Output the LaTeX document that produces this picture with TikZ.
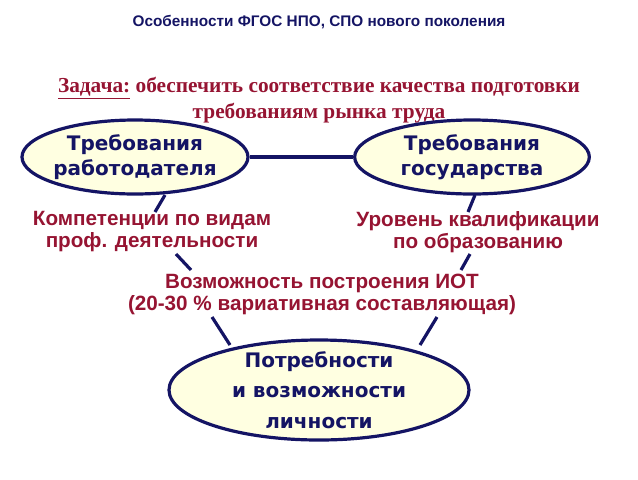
\documentclass[tikz,border=0pt]{standalone}
\usepackage{fontspec}
\setmainfont{Liberation Serif}
\setsansfont{Liberation Sans}
\newfontfamily\verd{DejaVu Sans}
\usetikzlibrary{shapes.geometric}
\definecolor{navy}{RGB}{20,20,100}
\definecolor{dred}{RGB}{150,20,50}
\definecolor{cream}{RGB}{255,255,225}
\tikzset{
  ell/.style={ellipse,draw=navy,line width=2.4pt,fill=cream,inner sep=0pt},
  etext/.style={font=\verd\bfseries\fontsize{15}{19}\selectfont,text=navy,align=center},
  lab/.style={font=\sffamily\bfseries\fontsize{15.5}{16.5}\selectfont,text=dred,align=center},
  conn/.style={draw=navy,line width=2.4pt}
}
\begin{document}
\begin{tikzpicture}[x=0.75pt,y=-0.75pt]
\useasboundingbox (0,0) rectangle (638,479);
\node[font=\sffamily\bfseries\fontsize{11.5}{13}\selectfont,text=navy] (title) at (319,22) {Особенности ФГОС НПО, СПО нового поколения};
\node[font=\bfseries\fontsize{16}{19}\selectfont,text=dred,align=center] (task) at (319,100) {\underline{Задача:} обеспечить соответствие качества подготовки\\требованиям рынка труда};
\coordinate (lt1) at (165,195); \coordinate (lb1) at (155,212);
\coordinate (rt1) at (475,195); \coordinate (rb1) at (468,212);
\draw[conn] (lt1) -- (lb1);
\draw[conn] (rt1) -- (rb1);
\coordinate (l2a) at (176,254); \coordinate (l2b) at (191,270);
\coordinate (r2a) at (470,254); \coordinate (r2b) at (461,270);
\draw[conn] (l2a) -- (l2b);
\draw[conn] (r2a) -- (r2b);
\coordinate (l3a) at (212,317); \coordinate (l3b) at (230,345);
\coordinate (r3a) at (437,317); \coordinate (r3b) at (420,345);
\draw[conn] (l3a) -- (l3b);
\draw[conn] (r3a) -- (r3b);
\node[ell,minimum width=169.5pt,minimum height=55.5pt] (emp) at (135,157) {};
\node[ell,minimum width=176pt,minimum height=55.5pt] (gov) at (472,157) {};
\node[ell,minimum width=225pt,minimum height=75pt] (pers) at (319,390) {};
\draw[conn] (emp.east) -- (gov.west);
\node[etext] at (emp) {Требования\\работодателя};
\node[etext] at (gov) {Требования\\государства};
\node[etext,font=\verd\bfseries\fontsize{15}{23}\selectfont] at (pers) {Потребности\\и возможности\\личности};
\node[lab] (comp) at (152,232) {Компетенции по видам\\проф. деятельности};
\node[lab] (lev) at (478,232) {Уровень квалификации\\по образованию};
\node[lab] (iot) at (322,294) {Возможность построения ИОТ\\(20-30 \% вариативная составляющая)};
\end{tikzpicture}
\end{document}
